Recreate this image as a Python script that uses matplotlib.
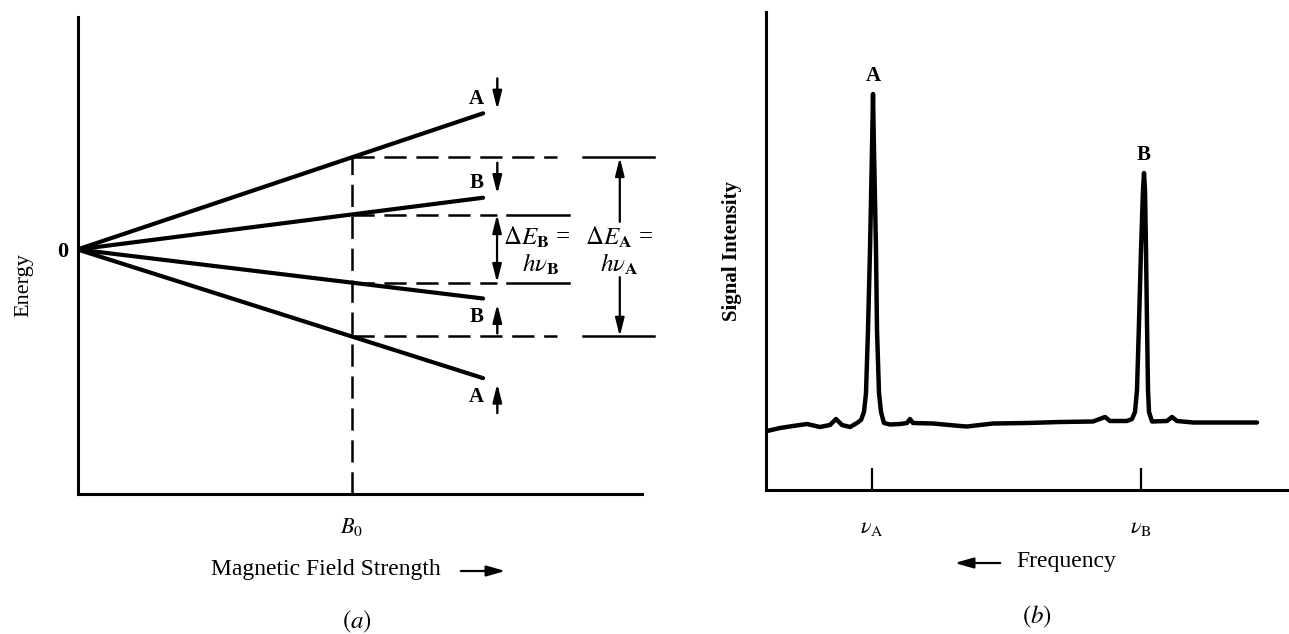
import numpy as np
import matplotlib
matplotlib.use("Agg")
import matplotlib.pyplot as plt

plt.rcParams['font.family'] = 'serif'
plt.rcParams['font.serif'] = ['Liberation Serif', 'DejaVu Serif']
plt.rcParams['mathtext.fontset'] = 'stix'
plt.rcParams['lines.scale_dashes'] = False

# --- (a) energy levels vs field ---
B0 = 1.0
field_end = 1.48
level_names = ['A', 'B', 'B', 'A']
level_at_B0 = [1.0, 0.38, -0.36, -0.945]   # energy of each level at B0
spin = ['down', 'down', 'up', 'up']

# --- (b) spectrum trace (frequency offset, signal intensity) ---
freq = [1, 14, 27, 41, 54, 64, 70, 76, 84, 91, 95, 98, 100, 102, 104, 106, 107,
        108, 110, 111, 113, 115, 118, 124, 134, 141, 144, 147, 167, 194, 201, 227,
        261, 294, 327, 339, 344, 361, 366, 369, 371, 373, 375, 377, 378, 379, 380,
        381, 382, 383, 386, 401, 406, 411, 427, 461, 491]
signal = [59, 62, 64, 66, 63, 65, 71, 65, 63, 67, 70, 78, 97, 160, 240, 340, 396,
          340, 240, 160, 97, 78, 67, 65.5, 66, 67, 71, 67, 66.5, 64, 63.5, 66.5,
          67, 68, 68.5, 73, 69, 69, 71, 78, 100, 167, 240, 300, 317, 300, 240,
          167, 100, 78, 68.5, 69, 73, 69, 67.5, 67.5, 67.5]
peak_names = ['A', 'B']
peak_freq = [107, 378]
tick_labels = [r'$\nu_{\rm A}$', r'$\nu_{\rm B}$']
tick_freq = [106, 375]

W, H = 1289, 634
fig = plt.figure(figsize=(W / 100, H / 100), dpi=100)


def frac(px, py):
    return px / W, 1 - py / H


# ---------------- panel (a) ----------------
ax1 = fig.add_axes([77.5 / W, 1 - 494 / H, (642 - 77.5) / W, (494 - 17) / H])
ax1.set_xlim(0, 2.06)
ax1.set_ylim(-2.658, 2.527)
for s in ['top', 'right']:
    ax1.spines[s].set_visible(False)
for s in ['left', 'bottom']:
    ax1.spines[s].set_linewidth(2.2)

dash = dict(color='black', lw=1.8, dashes=(16, 7))
solid = dict(color='black', lw=1.8)

for name, e, sp in zip(level_names, level_at_B0, spin):
    e_end = e * field_end / B0
    ax1.plot([0, field_end], [0, e_end], color='black', lw=3, solid_capstyle='round')
    ax1.text(1.455, e_end + (0.16 if sp == 'down' else -0.2), name,
             ha='center', va='center', fontsize=15, fontweight='bold')
    if sp == 'down':
        tail, tip = e_end + 0.38, e_end + 0.04
    else:
        tail, tip = e_end - 0.38, e_end - 0.06
    ax1.annotate('', xy=(1.532, tip), xytext=(1.532, tail),
                 arrowprops=dict(arrowstyle='-|>,head_length=0.6,head_width=0.15',
                                 lw=1.7, color='black', mutation_scale=18,
                                 shrinkA=0, shrinkB=0))

# vertical dashed line at B0
ax1.plot([B0, B0], [-2.658, level_at_B0[0]], **dash)

# horizontal lines for the level energies at B0
outer = [level_at_B0[0], level_at_B0[3]]
inner = [level_at_B0[1], level_at_B0[2]]
for e in outer:
    ax1.plot([B0, 1.749], [e, e], **dash)
    ax1.plot([1.844, 2.104], [e, e], clip_on=False, **solid)
for e in inner:
    ax1.plot([B0, 1.531], [e, e], **dash)
    ax1.plot([1.567, 1.793], [e, e], clip_on=False, **solid)

head = dict(arrowstyle='-|>,head_length=0.6,head_width=0.15', lw=1.6,
            color='black', mutation_scale=18, shrinkA=0, shrinkB=0)
# delta E_B double arrow
ax1.annotate('', xy=(1.531, inner[0]), xytext=(1.531, 0.0), arrowprops=head)
ax1.annotate('', xy=(1.531, inner[1]), xytext=(1.531, 0.0), arrowprops=head)
# delta E_A arrows with gap for text
ax1.annotate('', xy=(1.979, outer[0]), xytext=(1.979, 0.30), arrowprops=head,
             annotation_clip=False)
ax1.annotate('', xy=(1.979, outer[1]), xytext=(1.979, -0.30), arrowprops=head,
             annotation_clip=False)

ax1.text(1.675, 0.135, r'$\Delta E_{\mathbf{B}}$ =', ha='center', va='center', fontsize=18)
ax1.text(1.69, -0.16, r'$h\nu_{\mathbf{B}}$', ha='center', va='center', fontsize=18)
ax1.text(1.975, 0.135, r'$\Delta E_{\mathbf{A}}$ =', ha='center', va='center', fontsize=18,
         clip_on=False)
ax1.text(1.975, -0.16, r'$h\nu_{\mathbf{A}}$', ha='center', va='center', fontsize=18,
         clip_on=False)

ax1.set_xticks([B0])
ax1.set_xticklabels([r'$B_0$'], fontsize=16)
ax1.set_yticks([0])
ax1.set_yticklabels(['0'], fontsize=16, fontweight='bold')
ax1.tick_params(axis='x', length=0, pad=16)
ax1.tick_params(axis='y', length=0, pad=7)
ax1.set_ylabel('Energy', fontsize=16)
ax1.yaxis.set_label_coords(-0.078, 0.438)

fig.text(*frac(326, 570), 'Magnetic Field Strength', ha='center', va='center', fontsize=17)
fig.add_artist(matplotlib.patches.FancyArrowPatch(
    frac(458, 571), frac(508, 571), transform=fig.transFigure,
    arrowstyle='-|>,head_length=0.7,head_width=0.2', mutation_scale=16,
    lw=1.6, color='black'))
fig.text(*frac(357, 622), r'$(a)$', ha='center', va='center', fontsize=18)

# ---------------- panel (b) ----------------
ax2 = fig.add_axes([766 / W, 1 - 490 / H, (W - 766) / W, (490 - 12) / H])
ax2.set_xlim(0, W - 766)
ax2.set_ylim(0, 478)
for s in ['top', 'right']:
    ax2.spines[s].set_visible(False)
for s in ['left', 'bottom']:
    ax2.spines[s].set_linewidth(2.2)

ax2.plot(freq, signal, color='black', lw=3.2, solid_capstyle='round',
         solid_joinstyle='round')

for name, f in zip(peak_names, peak_freq):
    top = np.interp(f, freq, signal)
    ax2.annotate(name, xy=(f, top), xytext=(0, 13), textcoords='offset points',
                 ha='center', va='center', fontsize=15, fontweight='bold')

ax2.set_xticks(tick_freq)
ax2.set_xticklabels(tick_labels, fontsize=16, fontweight='bold')
ax2.tick_params(axis='x', direction='in', length=16, width=1.6, pad=20)
ax2.set_yticks([])
ax2.set_ylabel('Signal Intensity', fontsize=15, fontweight='bold')
ax2.yaxis.set_label_coords(-0.045, 0.5)

fig.text(*frac(1066, 562), 'Frequency', ha='center', va='center', fontsize=17)
fig.add_artist(matplotlib.patches.FancyArrowPatch(
    frac(1003, 563), frac(952, 563), transform=fig.transFigure,
    arrowstyle='-|>,head_length=0.7,head_width=0.2', mutation_scale=16,
    lw=1.6, color='black'))
fig.text(*frac(1037, 617), r'$(b)$', ha='center', va='center', fontsize=18)

fig.savefig('out.png', dpi=100)
